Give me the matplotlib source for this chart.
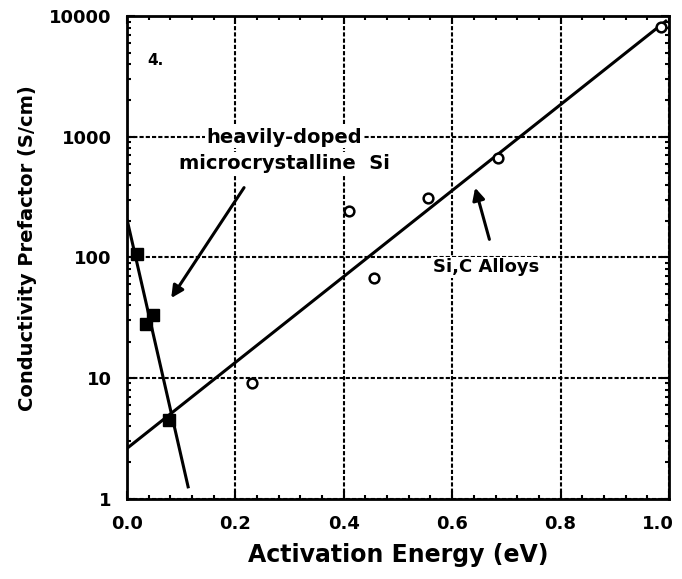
#!/usr/bin/env python
import numpy as np
from matplotlib import rcParams

rcParams['font.family'] = 'sans-serif'
rcParams['font.sans-serif'] = ['DejaVu Sans']
rcParams['font.weight'] = 'bold'

import matplotlib.pyplot as plt
import matplotlib.transforms as mtrans
from matplotlib.ticker import MultipleLocator, LogLocator, NullFormatter, FixedFormatter

# Si,C alloys (open circles)
alloyE = [0.23, 0.41, 0.456, 0.555, 0.684, 0.985]
alloyS = [9.0, 244, 68, 310, 667, 8100]

# heavily-doped microcrystalline Si (filled squares)
ucE = [0.018, 0.036, 0.048, 0.078]
ucS = [107, 28, 33, 4.5]

# fitted lines (start, end) in eV and S/cm
alloyFitE = [0.0, 0.994]
alloyFitS = [2.6, 9100]
ucFitE = [0.001, 0.113]
ucFitS = [200, 1.25]

xticks = [0.0, 0.2, 0.4, 0.6, 0.8, 1.0]
xticklabels = ['0.0', '0.2', '0.4', '0.6', '0.8', '1.0']
yticks = [1, 10, 100, 1000, 10000]
yticklabels = ['1', '10', '100', '1000', '10000']


def main():
    fig = plt.figure(figsize=(6.82, 5.79), dpi=100)
    ax = fig.add_axes([0.186, 0.139, 0.795, 0.833])

    ax.set_yscale('log')
    ax.set_xlim(0, 1.0)
    ax.set_ylim(1, 10000)

    ax.grid(True, which='major', color='black', linestyle=(0, (2, 1)), linewidth=1.5)
    ax.set_axisbelow(True)

    ax.plot(alloyFitE, alloyFitS, color='black', lw=2.2, zorder=3)
    ax.plot(ucFitE, ucFitS, color='black', lw=2.2, zorder=3)
    ax.plot(alloyE, alloyS, 'o', mfc='white', mec='black', mew=1.8, ms=7, zorder=4)
    ax.plot(ucE, ucS, 's', color='black', ms=8, zorder=4)

    ax.set_xticks(xticks)
    ax.set_xticklabels(xticklabels)
    ax.xaxis.set_minor_locator(MultipleLocator(0.04))
    ax.set_yticks(yticks)
    ax.yaxis.set_major_formatter(FixedFormatter(yticklabels))
    ax.yaxis.set_minor_locator(LogLocator(base=10, subs=np.arange(2, 10)))
    ax.yaxis.set_minor_formatter(NullFormatter())

    ax.tick_params(which='both', direction='in', top=True, right=True, width=1.5)
    ax.tick_params(which='major', length=6, labelsize=13)
    ax.tick_params(axis='x', which='major', pad=12)
    ax.tick_params(axis='y', which='major', pad=11)
    ax.tick_params(which='minor', length=3)
    for sp in ax.spines.values():
        sp.set_linewidth(2)

    # keep the last x label inside the figure
    last = ax.get_xticklabels()[-1]
    last.set_transform(last.get_transform() + mtrans.ScaledTranslation(-8 / 72, 0, fig.dpi_scale_trans))

    ax.set_xlabel('Activation Energy (eV)', fontsize=17, fontweight='bold')
    ax.set_ylabel('Conductivity Prefactor (S/cm)', fontsize=14, fontweight='bold')
    ax.xaxis.set_label_coords(0.5, -0.093)
    ax.yaxis.set_label_coords(-0.166, 0.52)

    wbox = dict(facecolor='white', edgecolor='none', pad=1)
    ax.text(0.053, 4300, '4.', fontsize=11, ha='center', va='center')
    ax.text(0.29, 990, 'heavily-doped', fontsize=14, ha='center', va='center',
            bbox=wbox, zorder=5)
    ax.text(0.29, 605, 'microcrystalline  Si', fontsize=14, ha='center', va='center',
            bbox=wbox, zorder=5)
    ax.annotate('', xy=(0.079, 44), xytext=(0.219, 396),
                arrowprops=dict(arrowstyle='-|>', color='black', lw=2.2, mutation_scale=18))
    ax.text(0.662, 83, 'Si,C Alloys', fontsize=13, ha='center', va='center',
            bbox=wbox, zorder=5)
    ax.annotate('', xy=(0.641, 398), xytext=(0.67, 134),
                arrowprops=dict(arrowstyle='-|>', color='black', lw=2.2, mutation_scale=18))

    fig.savefig('out.png', dpi=100)


if __name__ == '__main__':
    main()
